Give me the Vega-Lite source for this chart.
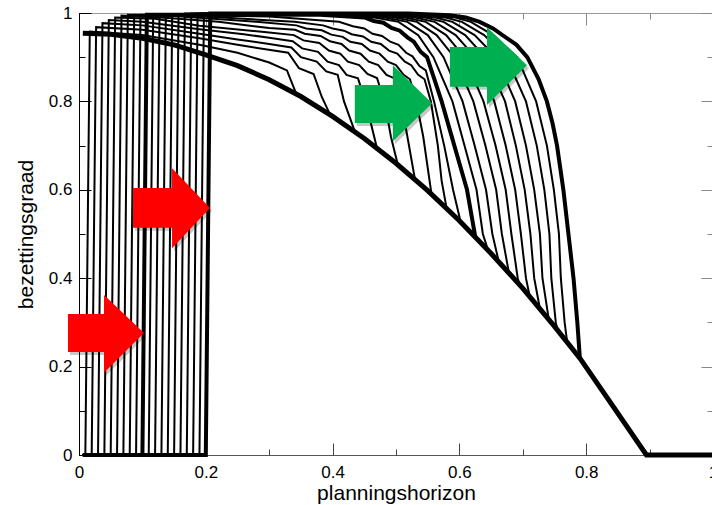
{
  "$schema": "https://vega.github.io/schema/vega-lite/v6.json",
  "width": 634,
  "height": 442,
  "autosize": "none",
  "padding": {"left": 79, "top": 13, "right": 0, "bottom": 50},
  "background": "white",
  "config": {
    "view": {"stroke": null},
    "axis": {"labelFont": "Liberation Sans", "labelFontSize": 17, "titleFont": "Liberation Sans", "titleFontSize": 21, "titleFontWeight": "normal", "labelColor": "#000", "titleColor": "#000", "grid": false, "labelFlush": false, "labelOverlap": false}
  },
  "datasets": {
    "lines": [
      {"c":"c1","k":"thin","x":0.006,"y":0},{"c":"c1","k":"thin","x":0.01,"y":0},{"c":"c1","k":"thin","x":0.017,"y":0.958},{"c":"c1","k":"thin","x":0.1,"y":0.95},{"c":"c1","k":"thin","x":0.19,"y":0.928},{"c":"c1","k":"thin","x":0.25,"y":0.91},{"c":"c1","k":"thin","x":0.3,"y":0.888},{"c":"c1","k":"thin","x":0.328,"y":0.87},{"c":"c1","k":"thin","x":0.343,"y":0.816},
      {"c":"c2","k":"thin","x":0.006,"y":0},{"c":"c2","k":"thin","x":0.02,"y":0},{"c":"c2","k":"thin","x":0.027,"y":0.968},{"c":"c2","k":"thin","x":0.1,"y":0.962},{"c":"c2","k":"thin","x":0.19,"y":0.943},{"c":"c2","k":"thin","x":0.25,"y":0.928},{"c":"c2","k":"thin","x":0.33,"y":0.91},{"c":"c2","k":"thin","x":0.347,"y":0.875},{"c":"c2","k":"thin","x":0.37,"y":0.862},{"c":"c2","k":"thin","x":0.383,"y":0.81},{"c":"c2","k":"thin","x":0.396,"y":0.77},
      {"c":"c3","k":"thin","x":0.006,"y":0},{"c":"c3","k":"thin","x":0.03,"y":0},{"c":"c3","k":"thin","x":0.037,"y":0.977},{"c":"c3","k":"thin","x":0.1,"y":0.972},{"c":"c3","k":"thin","x":0.19,"y":0.953},{"c":"c3","k":"thin","x":0.25,"y":0.94},{"c":"c3","k":"thin","x":0.3,"y":0.93},{"c":"c3","k":"thin","x":0.335,"y":0.922},{"c":"c3","k":"thin","x":0.35,"y":0.9},{"c":"c3","k":"thin","x":0.375,"y":0.89},{"c":"c3","k":"thin","x":0.39,"y":0.868},{"c":"c3","k":"thin","x":0.408,"y":0.86},{"c":"c3","k":"thin","x":0.418,"y":0.8},{"c":"c3","k":"thin","x":0.435,"y":0.732},
      {"c":"c4","k":"thin","x":0.006,"y":0},{"c":"c4","k":"thin","x":0.04,"y":0},{"c":"c4","k":"thin","x":0.047,"y":0.984},{"c":"c4","k":"thin","x":0.1,"y":0.98},{"c":"c4","k":"thin","x":0.19,"y":0.963},{"c":"c4","k":"thin","x":0.26,"y":0.952},{"c":"c4","k":"thin","x":0.3,"y":0.944},{"c":"c4","k":"thin","x":0.337,"y":0.936},{"c":"c4","k":"thin","x":0.352,"y":0.92},{"c":"c4","k":"thin","x":0.377,"y":0.912},{"c":"c4","k":"thin","x":0.392,"y":0.89},{"c":"c4","k":"thin","x":0.41,"y":0.882},{"c":"c4","k":"thin","x":0.422,"y":0.86},{"c":"c4","k":"thin","x":0.44,"y":0.852},{"c":"c4","k":"thin","x":0.452,"y":0.8},{"c":"c4","k":"thin","x":0.47,"y":0.694},
      {"c":"c5","k":"thin","x":0.006,"y":0},{"c":"c5","k":"thin","x":0.05,"y":0},{"c":"c5","k":"thin","x":0.057,"y":0.99},{"c":"c5","k":"thin","x":0.12,"y":0.987},{"c":"c5","k":"thin","x":0.19,"y":0.971},{"c":"c5","k":"thin","x":0.3,"y":0.956},{"c":"c5","k":"thin","x":0.339,"y":0.95},{"c":"c5","k":"thin","x":0.354,"y":0.938},{"c":"c5","k":"thin","x":0.379,"y":0.932},{"c":"c5","k":"thin","x":0.394,"y":0.915},{"c":"c5","k":"thin","x":0.412,"y":0.908},{"c":"c5","k":"thin","x":0.424,"y":0.89},{"c":"c5","k":"thin","x":0.442,"y":0.882},{"c":"c5","k":"thin","x":0.455,"y":0.862},{"c":"c5","k":"thin","x":0.47,"y":0.853},{"c":"c5","k":"thin","x":0.482,"y":0.8},{"c":"c5","k":"thin","x":0.492,"y":0.72},{"c":"c5","k":"thin","x":0.503,"y":0.656},
      {"c":"c6","k":"thin","x":0.006,"y":0},{"c":"c6","k":"thin","x":0.06,"y":0},{"c":"c6","k":"thin","x":0.067,"y":0.994},{"c":"c6","k":"thin","x":0.13,"y":0.99},{"c":"c6","k":"thin","x":0.22,"y":0.98},{"c":"c6","k":"thin","x":0.3,"y":0.966},{"c":"c6","k":"thin","x":0.341,"y":0.962},{"c":"c6","k":"thin","x":0.356,"y":0.953},{"c":"c6","k":"thin","x":0.381,"y":0.948},{"c":"c6","k":"thin","x":0.396,"y":0.936},{"c":"c6","k":"thin","x":0.414,"y":0.93},{"c":"c6","k":"thin","x":0.426,"y":0.915},{"c":"c6","k":"thin","x":0.444,"y":0.908},{"c":"c6","k":"thin","x":0.457,"y":0.89},{"c":"c6","k":"thin","x":0.472,"y":0.882},{"c":"c6","k":"thin","x":0.485,"y":0.86},{"c":"c6","k":"thin","x":0.498,"y":0.852},{"c":"c6","k":"thin","x":0.508,"y":0.8},{"c":"c6","k":"thin","x":0.518,"y":0.72},{"c":"c6","k":"thin","x":0.53,"y":0.623},
      {"c":"c7","k":"thin","x":0.006,"y":0},{"c":"c7","k":"thin","x":0.07,"y":0},{"c":"c7","k":"thin","x":0.077,"y":0.996},{"c":"c7","k":"thin","x":0.15,"y":0.993},{"c":"c7","k":"thin","x":0.28,"y":0.98},{"c":"c7","k":"thin","x":0.343,"y":0.972},{"c":"c7","k":"thin","x":0.358,"y":0.965},{"c":"c7","k":"thin","x":0.383,"y":0.961},{"c":"c7","k":"thin","x":0.398,"y":0.951},{"c":"c7","k":"thin","x":0.416,"y":0.946},{"c":"c7","k":"thin","x":0.428,"y":0.935},{"c":"c7","k":"thin","x":0.446,"y":0.93},{"c":"c7","k":"thin","x":0.459,"y":0.915},{"c":"c7","k":"thin","x":0.474,"y":0.908},{"c":"c7","k":"thin","x":0.487,"y":0.89},{"c":"c7","k":"thin","x":0.5,"y":0.882},{"c":"c7","k":"thin","x":0.512,"y":0.86},{"c":"c7","k":"thin","x":0.522,"y":0.85},{"c":"c7","k":"thin","x":0.532,"y":0.8},{"c":"c7","k":"thin","x":0.543,"y":0.72},{"c":"c7","k":"thin","x":0.556,"y":0.59},
      {"c":"c8","k":"thin","x":0.006,"y":0},{"c":"c8","k":"thin","x":0.08,"y":0},{"c":"c8","k":"thin","x":0.087,"y":0.996},{"c":"c8","k":"thin","x":0.2,"y":0.992},{"c":"c8","k":"thin","x":0.34,"y":0.98},{"c":"c8","k":"thin","x":0.385,"y":0.972},{"c":"c8","k":"thin","x":0.4,"y":0.965},{"c":"c8","k":"thin","x":0.418,"y":0.96},{"c":"c8","k":"thin","x":0.43,"y":0.952},{"c":"c8","k":"thin","x":0.448,"y":0.947},{"c":"c8","k":"thin","x":0.461,"y":0.935},{"c":"c8","k":"thin","x":0.476,"y":0.93},{"c":"c8","k":"thin","x":0.489,"y":0.915},{"c":"c8","k":"thin","x":0.502,"y":0.908},{"c":"c8","k":"thin","x":0.514,"y":0.89},{"c":"c8","k":"thin","x":0.524,"y":0.882},{"c":"c8","k":"thin","x":0.535,"y":0.86},{"c":"c8","k":"thin","x":0.545,"y":0.85},{"c":"c8","k":"thin","x":0.555,"y":0.8},{"c":"c8","k":"thin","x":0.566,"y":0.7},{"c":"c8","k":"thin","x":0.572,"y":0.62},{"c":"c8","k":"thin","x":0.58,"y":0.557},
      {"c":"c9","k":"thin","x":0.006,"y":0},{"c":"c9","k":"thin","x":0.09,"y":0},{"c":"c9","k":"thin","x":0.097,"y":0.996},{"c":"c9","k":"thin","x":0.3,"y":0.992},{"c":"c9","k":"thin","x":0.41,"y":0.98},{"c":"c9","k":"thin","x":0.432,"y":0.97},{"c":"c9","k":"thin","x":0.45,"y":0.965},{"c":"c9","k":"thin","x":0.463,"y":0.953},{"c":"c9","k":"thin","x":0.478,"y":0.948},{"c":"c9","k":"thin","x":0.491,"y":0.935},{"c":"c9","k":"thin","x":0.504,"y":0.928},{"c":"c9","k":"thin","x":0.516,"y":0.91},{"c":"c9","k":"thin","x":0.526,"y":0.902},{"c":"c9","k":"thin","x":0.537,"y":0.88},{"c":"c9","k":"thin","x":0.547,"y":0.87},{"c":"c9","k":"thin","x":0.56,"y":0.8},{"c":"c9","k":"thin","x":0.576,"y":0.7},{"c":"c9","k":"thin","x":0.59,"y":0.6},{"c":"c9","k":"thin","x":0.602,"y":0.527},
      {"c":"c10","k":"thick","x":0.006,"y":0},{"c":"c10","k":"thick","x":0.1,"y":0},{"c":"c10","k":"thick","x":0.107,"y":0.996},{"c":"c10","k":"thick","x":0.38,"y":0.996},{"c":"c10","k":"thick","x":0.45,"y":0.99},{"c":"c10","k":"thick","x":0.465,"y":0.982},{"c":"c10","k":"thick","x":0.48,"y":0.978},{"c":"c10","k":"thick","x":0.493,"y":0.966},{"c":"c10","k":"thick","x":0.506,"y":0.96},{"c":"c10","k":"thick","x":0.518,"y":0.945},{"c":"c10","k":"thick","x":0.528,"y":0.935},{"c":"c10","k":"thick","x":0.539,"y":0.912},{"c":"c10","k":"thick","x":0.549,"y":0.9},{"c":"c10","k":"thick","x":0.572,"y":0.8},{"c":"c10","k":"thick","x":0.592,"y":0.7},{"c":"c10","k":"thick","x":0.612,"y":0.6},{"c":"c10","k":"thick","x":0.625,"y":0.494},
      {"c":"c11","k":"thin2","x":0.006,"y":0},{"c":"c11","k":"thin2","x":0.11,"y":0},{"c":"c11","k":"thin2","x":0.117,"y":0.997},{"c":"c11","k":"thin2","x":0.394,"y":0.997},{"c":"c11","k":"thin2","x":0.466,"y":0.99},{"c":"c11","k":"thin2","x":0.504,"y":0.98},{"c":"c11","k":"thin2","x":0.535,"y":0.95},{"c":"c11","k":"thin2","x":0.559,"y":0.9},{"c":"c11","k":"thin2","x":0.589,"y":0.8},{"c":"c11","k":"thin2","x":0.608,"y":0.7},{"c":"c11","k":"thin2","x":0.627,"y":0.6},{"c":"c11","k":"thin2","x":0.637,"y":0.5},{"c":"c11","k":"thin2","x":0.645,"y":0.464},
      {"c":"c12","k":"thin2","x":0.006,"y":0},{"c":"c12","k":"thin2","x":0.12,"y":0},{"c":"c12","k":"thin2","x":0.127,"y":0.997},{"c":"c12","k":"thin2","x":0.408,"y":0.997},{"c":"c12","k":"thin2","x":0.482,"y":0.99},{"c":"c12","k":"thin2","x":0.518,"y":0.98},{"c":"c12","k":"thin2","x":0.55,"y":0.95},{"c":"c12","k":"thin2","x":0.575,"y":0.9},{"c":"c12","k":"thin2","x":0.605,"y":0.8},{"c":"c12","k":"thin2","x":0.624,"y":0.7},{"c":"c12","k":"thin2","x":0.642,"y":0.6},{"c":"c12","k":"thin2","x":0.652,"y":0.5},{"c":"c12","k":"thin2","x":0.662,"y":0.438},
      {"c":"c13","k":"thin2","x":0.006,"y":0},{"c":"c13","k":"thin2","x":0.13,"y":0},{"c":"c13","k":"thin2","x":0.137,"y":0.998},{"c":"c13","k":"thin2","x":0.422,"y":0.998},{"c":"c13","k":"thin2","x":0.498,"y":0.99},{"c":"c13","k":"thin2","x":0.533,"y":0.98},{"c":"c13","k":"thin2","x":0.564,"y":0.95},{"c":"c13","k":"thin2","x":0.592,"y":0.9},{"c":"c13","k":"thin2","x":0.622,"y":0.8},{"c":"c13","k":"thin2","x":0.641,"y":0.7},{"c":"c13","k":"thin2","x":0.658,"y":0.6},{"c":"c13","k":"thin2","x":0.667,"y":0.5},{"c":"c13","k":"thin2","x":0.678,"y":0.413},
      {"c":"c14","k":"thin2","x":0.006,"y":0},{"c":"c14","k":"thin2","x":0.14,"y":0},{"c":"c14","k":"thin2","x":0.147,"y":0.998},{"c":"c14","k":"thin2","x":0.436,"y":0.998},{"c":"c14","k":"thin2","x":0.514,"y":0.99},{"c":"c14","k":"thin2","x":0.547,"y":0.98},{"c":"c14","k":"thin2","x":0.579,"y":0.95},{"c":"c14","k":"thin2","x":0.608,"y":0.9},{"c":"c14","k":"thin2","x":0.638,"y":0.8},{"c":"c14","k":"thin2","x":0.657,"y":0.7},{"c":"c14","k":"thin2","x":0.673,"y":0.6},{"c":"c14","k":"thin2","x":0.682,"y":0.5},{"c":"c14","k":"thin2","x":0.692,"y":0.4},{"c":"c14","k":"thin2","x":0.695,"y":0.385},
      {"c":"c15","k":"thin2","x":0.006,"y":0},{"c":"c15","k":"thin2","x":0.15,"y":0},{"c":"c15","k":"thin2","x":0.157,"y":0.998},{"c":"c15","k":"thin2","x":0.45,"y":0.998},{"c":"c15","k":"thin2","x":0.53,"y":0.99},{"c":"c15","k":"thin2","x":0.561,"y":0.98},{"c":"c15","k":"thin2","x":0.594,"y":0.95},{"c":"c15","k":"thin2","x":0.625,"y":0.9},{"c":"c15","k":"thin2","x":0.655,"y":0.8},{"c":"c15","k":"thin2","x":0.673,"y":0.7},{"c":"c15","k":"thin2","x":0.688,"y":0.6},{"c":"c15","k":"thin2","x":0.697,"y":0.5},{"c":"c15","k":"thin2","x":0.705,"y":0.4},{"c":"c15","k":"thin2","x":0.711,"y":0.358},
      {"c":"c16","k":"thin2","x":0.006,"y":0},{"c":"c16","k":"thin2","x":0.16,"y":0},{"c":"c16","k":"thin2","x":0.167,"y":0.999},{"c":"c16","k":"thin2","x":0.464,"y":0.999},{"c":"c16","k":"thin2","x":0.546,"y":0.99},{"c":"c16","k":"thin2","x":0.575,"y":0.98},{"c":"c16","k":"thin2","x":0.609,"y":0.95},{"c":"c16","k":"thin2","x":0.641,"y":0.9},{"c":"c16","k":"thin2","x":0.672,"y":0.8},{"c":"c16","k":"thin2","x":0.689,"y":0.7},{"c":"c16","k":"thin2","x":0.703,"y":0.6},{"c":"c16","k":"thin2","x":0.712,"y":0.5},{"c":"c16","k":"thin2","x":0.718,"y":0.4},{"c":"c16","k":"thin2","x":0.727,"y":0.331},
      {"c":"c17","k":"thin2","x":0.006,"y":0},{"c":"c17","k":"thin2","x":0.17,"y":0},{"c":"c17","k":"thin2","x":0.177,"y":0.999},{"c":"c17","k":"thin2","x":0.478,"y":0.999},{"c":"c17","k":"thin2","x":0.562,"y":0.99},{"c":"c17","k":"thin2","x":0.589,"y":0.98},{"c":"c17","k":"thin2","x":0.624,"y":0.95},{"c":"c17","k":"thin2","x":0.658,"y":0.9},{"c":"c17","k":"thin2","x":0.688,"y":0.8},{"c":"c17","k":"thin2","x":0.705,"y":0.7},{"c":"c17","k":"thin2","x":0.718,"y":0.6},{"c":"c17","k":"thin2","x":0.727,"y":0.5},{"c":"c17","k":"thin2","x":0.731,"y":0.4},{"c":"c17","k":"thin2","x":0.741,"y":0.307},
      {"c":"c18","k":"thin2","x":0.006,"y":0},{"c":"c18","k":"thin2","x":0.18,"y":0},{"c":"c18","k":"thin2","x":0.187,"y":0.999},{"c":"c18","k":"thin2","x":0.492,"y":0.999},{"c":"c18","k":"thin2","x":0.578,"y":0.99},{"c":"c18","k":"thin2","x":0.604,"y":0.98},{"c":"c18","k":"thin2","x":0.639,"y":0.95},{"c":"c18","k":"thin2","x":0.674,"y":0.9},{"c":"c18","k":"thin2","x":0.705,"y":0.8},{"c":"c18","k":"thin2","x":0.722,"y":0.7},{"c":"c18","k":"thin2","x":0.734,"y":0.6},{"c":"c18","k":"thin2","x":0.742,"y":0.5},{"c":"c18","k":"thin2","x":0.745,"y":0.4},{"c":"c18","k":"thin2","x":0.752,"y":0.3},{"c":"c18","k":"thin2","x":0.755,"y":0.282},
      {"c":"c19","k":"thin2","x":0.006,"y":0},{"c":"c19","k":"thin2","x":0.19,"y":0},{"c":"c19","k":"thin2","x":0.197,"y":0.999},{"c":"c19","k":"thin2","x":0.506,"y":0.999},{"c":"c19","k":"thin2","x":0.594,"y":0.99},{"c":"c19","k":"thin2","x":0.618,"y":0.98},{"c":"c19","k":"thin2","x":0.653,"y":0.95},{"c":"c19","k":"thin2","x":0.691,"y":0.9},{"c":"c19","k":"thin2","x":0.721,"y":0.8},{"c":"c19","k":"thin2","x":0.738,"y":0.7},{"c":"c19","k":"thin2","x":0.749,"y":0.6},{"c":"c19","k":"thin2","x":0.757,"y":0.5},{"c":"c19","k":"thin2","x":0.76,"y":0.4},{"c":"c19","k":"thin2","x":0.766,"y":0.3},{"c":"c19","k":"thin2","x":0.77,"y":0.255},
      {"c":"c20","k":"thick","x":0.006,"y":0},{"c":"c20","k":"thick","x":0.2,"y":0},{"c":"c20","k":"thick","x":0.207,"y":0.999},{"c":"c20","k":"thick","x":0.52,"y":0.999},{"c":"c20","k":"thick","x":0.585,"y":0.995},{"c":"c20","k":"thick","x":0.61,"y":0.99},{"c":"c20","k":"thick","x":0.632,"y":0.98},{"c":"c20","k":"thick","x":0.653,"y":0.965},{"c":"c20","k":"thick","x":0.668,"y":0.95},{"c":"c20","k":"thick","x":0.69,"y":0.928},{"c":"c20","k":"thick","x":0.707,"y":0.9},{"c":"c20","k":"thick","x":0.725,"y":0.85},{"c":"c20","k":"thick","x":0.738,"y":0.8},{"c":"c20","k":"thick","x":0.747,"y":0.75},{"c":"c20","k":"thick","x":0.754,"y":0.7},{"c":"c20","k":"thick","x":0.764,"y":0.6},{"c":"c20","k":"thick","x":0.772,"y":0.5},{"c":"c20","k":"thick","x":0.78,"y":0.4},{"c":"c20","k":"thick","x":0.786,"y":0.3},{"c":"c20","k":"thick","x":0.79,"y":0.219},
      {"c":"env","k":"env","x":0.006,"y":0.954},{"c":"env","k":"env","x":0.05,"y":0.952},{"c":"env","k":"env","x":0.1,"y":0.943},{"c":"env","k":"env","x":0.15,"y":0.928},{"c":"env","k":"env","x":0.2,"y":0.905},{"c":"env","k":"env","x":0.25,"y":0.881},{"c":"env","k":"env","x":0.3,"y":0.849},{"c":"env","k":"env","x":0.35,"y":0.811},{"c":"env","k":"env","x":0.4,"y":0.766},{"c":"env","k":"env","x":0.45,"y":0.716},{"c":"env","k":"env","x":0.5,"y":0.66},{"c":"env","k":"env","x":0.55,"y":0.598},{"c":"env","k":"env","x":0.6,"y":0.53},{"c":"env","k":"env","x":0.65,"y":0.456},{"c":"env","k":"env","x":0.7,"y":0.377},{"c":"env","k":"env","x":0.75,"y":0.291},{"c":"env","k":"env","x":0.79,"y":0.219},{"c":"env","k":"env","x":0.84,"y":0.115},{"c":"env","k":"env","x":0.895,"y":0},{"c":"env","k":"env","x":1.0,"y":0}
    ],
    "arrows": [
      {"a":"r1","col":"red","x":-0.0174,"y":0.319,"y2":0.233},{"a":"r1","col":"red","x":0.0394,"y":0.319,"y2":0.233},{"a":"r1","col":"red","x":0.0395,"y":0.362,"y2":0.186},{"a":"r1","col":"red","x":0.1025,"y":0.276,"y2":0.276},
      {"a":"r2","col":"red","x":0.0852,"y":0.604,"y2":0.514},{"a":"r2","col":"red","x":0.1467,"y":0.604,"y2":0.514},{"a":"r2","col":"red","x":0.1468,"y":0.649,"y2":0.468},{"a":"r2","col":"red","x":0.2066,"y":0.559,"y2":0.559},
      {"a":"g1","col":"green","x":0.435,"y":0.837,"y2":0.751},{"a":"g1","col":"green","x":0.495,"y":0.837,"y2":0.751},{"a":"g1","col":"green","x":0.4951,"y":0.882,"y2":0.71},{"a":"g1","col":"green","x":0.557,"y":0.796,"y2":0.796},
      {"a":"g2","col":"green","x":0.585,"y":0.923,"y2":0.833},{"a":"g2","col":"green","x":0.6435,"y":0.923,"y2":0.833},{"a":"g2","col":"green","x":0.6436,"y":0.968,"y2":0.792},{"a":"g2","col":"green","x":0.7066,"y":0.882,"y2":0.882}
    ]
  },
  "resolve": {"axis": {"x": "independent", "y": "independent"}},
  "layer": [
    {
      "data": {"name": "lines"},
      "transform": [{"filter": "datum.k == 'thin'"}],
      "mark": {"type": "line", "color": "#000", "strokeWidth": 2},
      "encoding": {
        "x": {"field": "x", "type": "quantitative", "scale": {"domain": [0, 1], "nice": false, "zero": false},
              "axis": {"orient": "bottom", "values": [0, 0.2, 0.4, 0.6, 0.8, 1], "format": "~g", "title": "planningshorizon", "ticks": false, "domainColor": "#555", "labelPadding": 9, "titlePadding": 2}},
        "y": {"field": "y", "type": "quantitative", "scale": {"domain": [0, 1], "nice": false, "zero": false},
              "axis": {"orient": "left", "values": [0, 0.2, 0.4, 0.6, 0.8, 1], "format": "~g", "title": "bezettingsgraad", "ticks": false, "domainColor": "#000", "labelPadding": 7, "titlePadding": 12}},
        "detail": {"field": "c"}
      }
    },
    {
      "data": {"name": "lines"},
      "transform": [{"filter": "datum.k == 'thin2'"}],
      "mark": {"type": "line", "color": "#000", "strokeWidth": 2},
      "encoding": {
        "x": {"field": "x", "type": "quantitative", "scale": {"domain": [0, 1], "nice": false, "zero": false},
              "axis": {"orient": "bottom", "values": [0, 0.2, 0.4, 0.6, 0.8, 1], "labels": false, "domain": false, "title": null, "tickSize": -12, "tickColor": "#444"}},
        "y": {"field": "y", "type": "quantitative", "scale": {"domain": [0, 1], "nice": false, "zero": false},
              "axis": {"orient": "left", "values": [0, 0.2, 0.4, 0.6, 0.8, 1], "labels": false, "domain": false, "title": null, "tickSize": -12, "tickColor": "#000"}},
        "detail": {"field": "c"}
      }
    },
    {
      "data": {"name": "lines"},
      "transform": [{"filter": "datum.k == 'thick'"}],
      "mark": {"type": "line", "color": "#000", "strokeWidth": 4},
      "encoding": {
        "x": {"field": "x", "type": "quantitative", "scale": {"domain": [0, 1], "nice": false, "zero": false},
              "axis": {"orient": "bottom", "values": [0, 0.1, 0.2, 0.3, 0.4, 0.5, 0.6, 0.7, 0.8, 0.9, 1], "labels": false, "domain": false, "title": null, "tickSize": -6, "tickColor": "#444"}},
        "y": {"field": "y", "type": "quantitative", "scale": {"domain": [0, 1], "nice": false, "zero": false},
              "axis": {"orient": "left", "values": [0, 0.1, 0.2, 0.3, 0.4, 0.5, 0.6, 0.7, 0.8, 0.9, 1], "labels": false, "domain": false, "title": null, "tickSize": -6, "tickColor": "#000"}},
        "detail": {"field": "c"}
      }
    },
    {
      "data": {"name": "lines"},
      "transform": [{"filter": "datum.k == 'env'"}],
      "mark": {"type": "line", "color": "#000", "strokeWidth": 5},
      "encoding": {
        "x": {"field": "x", "type": "quantitative", "scale": {"domain": [0, 1], "nice": false, "zero": false},
              "axis": {"orient": "top", "values": [0, 0.2, 0.4, 0.6, 0.8, 1], "labels": false, "title": null, "tickSize": -12, "tickColor": "#888", "domainColor": "#999"}},
        "y": {"field": "y", "type": "quantitative", "scale": {"domain": [0, 1], "nice": false, "zero": false},
              "axis": {"orient": "right", "values": [0, 0.2, 0.4, 0.6, 0.8, 1], "labels": false, "title": null, "tickSize": -12, "tickColor": "#888", "domainColor": "#999"}}
      }
    },
    {
      "data": {"name": "arrows"},
      "mark": {"type": "area", "color": "#000", "opacity": 0.22, "xOffset": 2, "yOffset": 3, "y2Offset": 3},
      "encoding": {
        "x": {"field": "x", "type": "quantitative", "scale": {"domain": [0, 1], "nice": false, "zero": false},
              "axis": {"orient": "top", "values": [0, 0.1, 0.2, 0.3, 0.4, 0.5, 0.6, 0.7, 0.8, 0.9, 1], "labels": false, "domain": false, "title": null, "tickSize": -6, "tickColor": "#888"}},
        "y": {"field": "y", "type": "quantitative", "scale": {"domain": [0, 1], "nice": false, "zero": false},
              "axis": {"orient": "right", "values": [0, 0.1, 0.2, 0.3, 0.4, 0.5, 0.6, 0.7, 0.8, 0.9, 1], "labels": false, "domain": false, "title": null, "tickSize": -6, "tickColor": "#888"}},
        "y2": {"field": "y2"},
        "detail": {"field": "a"}
      }
    },
    {
      "data": {"name": "arrows"},
      "mark": {"type": "area"},
      "encoding": {
        "x": {"field": "x", "type": "quantitative", "scale": {"domain": [0, 1], "nice": false, "zero": false}, "axis": null},
        "y": {"field": "y", "type": "quantitative", "scale": {"domain": [0, 1], "nice": false, "zero": false}, "axis": null},
        "y2": {"field": "y2"},
        "color": {"field": "col", "type": "nominal", "scale": {"domain": ["red", "green"], "range": ["#FF0000", "#00B050"]}, "legend": null},
        "detail": {"field": "a"}
      }
    }
  ]
}
